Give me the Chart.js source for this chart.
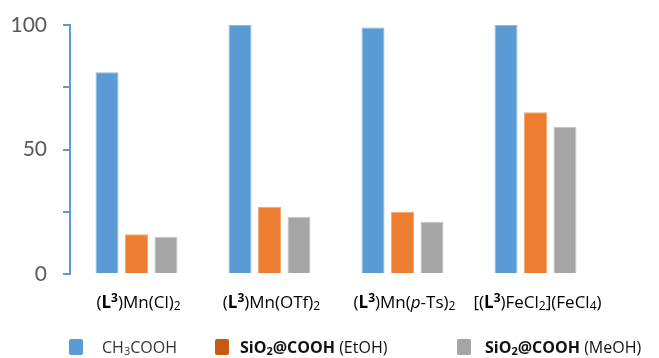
<!DOCTYPE html>
<html>
<head>
<meta charset="utf-8">
<script src="https://cdn.jsdelivr.net/npm/chart.js@4/dist/chart.umd.min.js"></script>
<style>
  html, body { margin: 0; padding: 0; background: #fff; }
</style>
</head>
<body>
<canvas id="chart" width="659" height="358"></canvas>
<script>
// data
const categories = ['(L3)Mn(Cl)2', '(L3)Mn(OTf)2', '(L3)Mn(p-Ts)2', '[(L3)FeCl2](FeCl4)'];
const seriesNames = ['CH3COOH', 'SiO2@COOH (EtOH)', 'SiO2@COOH (MeOH)'];
const ch3coohValues = [81, 100, 99, 100];
const etohValues = [16, 27, 25, 65];
const meohValues = [15, 23, 21, 59];
const yTickLabels = [0, 50, 100];

// rich text pieces for the category labels (bold L, superscript, subscript)
const categoryParts = [
  [{t: '('}, {t: 'L', b: 1}, {t: '3', b: 1, sup: 1}, {t: ')Mn(Cl)'}, {t: '2', sub: 1}],
  [{t: '('}, {t: 'L', b: 1}, {t: '3', b: 1, sup: 1}, {t: ')Mn(OTf)'}, {t: '2', sub: 1}],
  [{t: '('}, {t: 'L', b: 1}, {t: '3', b: 1, sup: 1}, {t: ')Mn('}, {t: 'p', i: 1}, {t: '-Ts)'}, {t: '2', sub: 1}],
  [{t: '[('}, {t: 'L', b: 1}, {t: '3', b: 1, sup: 1}, {t: ')FeCl'}, {t: '2', sub: 1}, {t: '](FeCl'}, {t: '4', sub: 1}, {t: ')'}]
];
const legendParts = [
  [{t: 'CH'}, {t: '3', sub: 1}, {t: 'COOH'}],
  [{t: 'SiO', b: 1}, {t: '2', b: 1, sub: 1}, {t: '@COOH', b: 1}, {t: ' (EtOH)'}],
  [{t: 'SiO', b: 1}, {t: '2', b: 1, sub: 1}, {t: '@COOH', b: 1}, {t: ' (MeOH)'}]
];

const barColors = ['#5B9BD5', '#ED7D31', '#A5A5A5'];
const barEdges = ['#8DB9E4', '#F3A877', '#C3C3C3'];
const legendColors = ['#5B9BD5', '#C55A11', '#A5A5A5'];
const FONT = '"Open Sans"';

function partFont(p, size) {
  const s = (p.sup || p.sub) ? Math.round(size * 0.68) : size;
  return (p.i ? 'italic ' : '') + (p.b ? 'bold ' : '') + s + 'px ' + FONT;
}

function richWidth(ctx, parts, size) {
  let w = 0;
  parts.forEach(p => { ctx.font = partFont(p, size); w += ctx.measureText(p.t).width; });
  return w;
}

function drawRich(ctx, parts, x, baseline, size) {
  parts.forEach(p => {
    ctx.font = partFont(p, size);
    let dy = 0;
    if (p.sup) dy = -size * 0.36;
    if (p.sub) dy = size * 0.12;
    ctx.fillText(p.t, x, baseline + dy);
    x += ctx.measureText(p.t).width;
  });
}

const richLabels = {
  id: 'richLabels',
  afterDraw(chart) {
    const ctx = chart.ctx;
    const xScale = chart.scales.x;
    ctx.save();
    ctx.textBaseline = 'alphabetic';
    ctx.textAlign = 'left';
    ctx.fillStyle = '#000';
    categoryParts.forEach((parts, i) => {
      const cx = xScale.getPixelForValue(i);
      const w = richWidth(ctx, parts, 17);
      drawRich(ctx, parts, cx - w / 2 + 2, 308, 17);
    });

    // legend
    const swatchX = [69, 215, 457];
    const textX = [102, 240, 485];
    legendParts.forEach((parts, i) => {
      ctx.fillStyle = legendColors[i];
      ctx.beginPath();
      ctx.roundRect(swatchX[i], 339, 14, 16, 2);
      ctx.fill();
      ctx.fillStyle = i === 0 ? '#333' : '#111';
      drawRich(ctx, parts, textX[i], 353, 16);
    });
    ctx.restore();
  }
};

const ctx = document.getElementById('chart').getContext('2d');
const chart = new Chart(ctx, {
  type: 'bar',
  data: {
    labels: categories,
    datasets: [
      {label: seriesNames[0], data: ch3coohValues, backgroundColor: barColors[0], borderColor: barEdges[0], borderWidth: 1},
      {label: seriesNames[1], data: etohValues, backgroundColor: barColors[1], borderColor: barEdges[1], borderWidth: 1},
      {label: seriesNames[2], data: meohValues, backgroundColor: barColors[2], borderColor: barEdges[2], borderWidth: 1}
    ]
  },
  options: {
    responsive: false,
    animation: false,
    categoryPercentage: 0.665,
    barPercentage: 0.78,
    layout: {padding: {left: 0, right: 57, top: 25, bottom: 84}},
    scales: {
      x: {display: false},
      y: {
        min: 0,
        max: 100,
        afterFit(scale) {
          scale.width = 70;
          scale.paddingTop = 0;
          scale.paddingBottom = 0;
        },
        ticks: {
          stepSize: 25,
          padding: 16,
          color: '#595959',
          font: {family: 'Lato', size: 21},
          callback: v => yTickLabels.includes(v) ? v : ''
        },
        grid: {drawOnChartArea: false, color: '#5B9BD5', lineWidth: 2, tickLength: 7},
        border: {color: '#5B9BD5', width: 2}
      }
    },
    plugins: {
      legend: {display: false},
      tooltip: {enabled: false}
    }
  },
  plugins: [richLabels]
});
</script>
</body>
</html>
